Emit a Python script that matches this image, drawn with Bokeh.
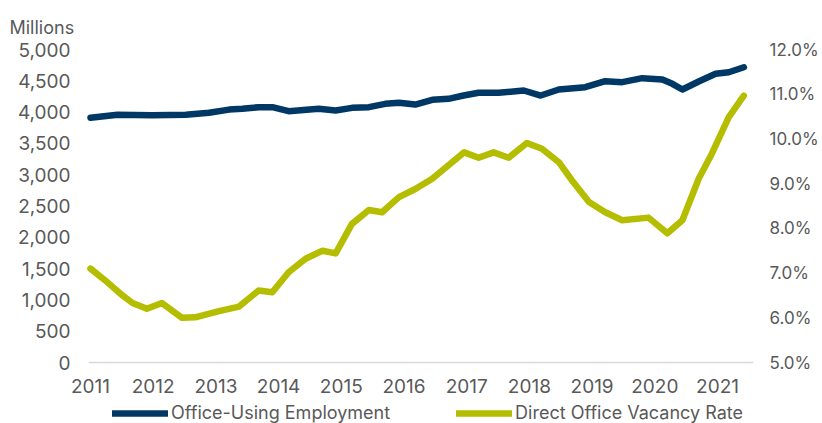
from bokeh.plotting import figure
from bokeh.models import (Range1d, LinearAxis, FixedTicker, NumeralTickFormatter,
                          PrintfTickFormatter, Legend, LegendItem, Title)
from bokeh.core.properties import value
from bokeh.embed import file_html
from bokeh.resources import INLINE

# Office-using employment (millions)
emp_dates = [2011.00, 2011.43, 2011.98, 2012.52, 2012.89, 2013.21, 2013.42, 2013.68,
             2013.90, 2014.16, 2014.64, 2014.91, 2015.17, 2015.44, 2015.70, 2015.92,
             2016.18, 2016.45, 2016.71, 2016.95, 2017.19, 2017.51, 2017.91, 2018.18,
             2018.47, 2018.89, 2019.21, 2019.48, 2019.80, 2020.12, 2020.28, 2020.44,
             2020.70, 2020.97, 2021.18, 2021.42]
employment = [3910, 3957, 3950, 3957, 3990, 4040, 4052, 4079,
              4079, 4015, 4052, 4025, 4068, 4079, 4132, 4148,
              4120, 4196, 4212, 4265, 4308, 4308, 4345, 4265,
              4361, 4398, 4494, 4478, 4542, 4521, 4452, 4361,
              4489, 4612, 4637, 4717]

# Direct office vacancy rate (%)
vac_dates = [2011.00, 2011.24, 2011.51, 2011.67, 2011.90, 2012.14, 2012.46, 2012.67,
             2013.05, 2013.37, 2013.68, 2013.90, 2014.16, 2014.43, 2014.70, 2014.91,
             2015.17, 2015.44, 2015.65, 2015.92, 2016.18, 2016.45, 2016.71, 2016.96,
             2017.19, 2017.43, 2017.67, 2017.96, 2018.20, 2018.47, 2018.68, 2018.95,
             2019.21, 2019.48, 2019.90, 2020.20, 2020.44, 2020.70, 2020.91, 2021.18,
             2021.42]
vacancy = [7.10, 6.83, 6.50, 6.33, 6.20, 6.33, 6.00, 6.01,
           6.15, 6.25, 6.61, 6.57, 7.02, 7.32, 7.50, 7.44,
           8.10, 8.41, 8.36, 8.70, 8.88, 9.11, 9.41, 9.70,
           9.58, 9.70, 9.58, 9.91, 9.78, 9.48, 9.07, 8.59,
           8.36, 8.18, 8.24, 7.89, 8.18, 9.11, 9.67, 10.49,
           10.97]

year_ticks = [2011, 2012, 2013, 2014, 2015, 2016, 2017, 2018, 2019, 2020, 2021]
year_labels = ["2011", "2012", "2013", "2014", "2015", "2016", "2017", "2018",
               "2019", "2020", "2021"]
left_ticks = [0, 500, 1000, 1500, 2000, 2500, 3000, 3500, 4000, 4500, 5000]
right_ticks = [5, 6, 7, 8, 9, 10, 11, 12]

# extent of the category (time) axis line
axis_start, axis_end = 2010.97, 2021.57

BLUE = "#003865"
GREEN = "#B5BD00"
GREY = "#595959"
FONT = "Inter"
FS = "19px"

# layout geometry (pixels)
W, H = 822, 423
TOP, LEFT, RIGHT = 49, 70, 54
PLOT_H = 313          # pixels between 0 and 5,000
BELOW = 61            # pixels below the zero line (year labels + legend)
PX_PER_YEAR = 62.7
FIRST_TICK_PX = 90    # x pixel of the 2011 tick

left_lo = -5000 * BELOW / PLOT_H
right_lo = 5 - 7 * BELOW / PLOT_H
x_lo = 2011 - (FIRST_TICK_PX - LEFT) / PX_PER_YEAR
x_hi = 2011 + (W - RIGHT - FIRST_TICK_PX) / PX_PER_YEAR

p = figure(width=W, height=H, output_backend="svg", toolbar_location=None,
           x_range=Range1d(x_lo, x_hi), y_range=Range1d(left_lo, 5000),
           x_axis_location=None,
           min_border_left=LEFT, min_border_right=RIGHT, min_border_top=TOP,
           min_border_bottom=0)
p.outline_line_color = None
p.grid.visible = False
p.background_fill_color = "white"
p.border_fill_color = "white"

p.extra_y_ranges = {"pct": Range1d(right_lo, 12)}

# time-axis baseline at zero
p.line([axis_start, axis_end], [0, 0], line_color="#D9D9D9", line_width=1.5)

r1 = p.line(emp_dates, employment, line_color=BLUE, line_width=6.5,
            line_cap="round", line_join="round")
r2 = p.line(vac_dates, vacancy, line_color=GREEN, line_width=6.5,
            line_cap="round", line_join="round", y_range_name="pct")

# year labels under the baseline
p.text(x=year_ticks, y=[0] * len(year_ticks), text=year_labels,
       y_offset=23, text_align="center", text_baseline="middle",
       text_font=value(FONT), text_font_size=FS, text_color=GREY)

def style_axis(ax, standoff, size=FS):
    ax.axis_line_color = None
    ax.major_tick_line_color = None
    ax.minor_tick_line_color = None
    ax.major_tick_out = 0
    ax.major_tick_in = 0
    ax.minor_tick_out = 0
    ax.major_label_text_font = FONT
    ax.major_label_text_font_size = size
    ax.major_label_text_color = GREY
    ax.major_label_standoff = standoff

# left axis
ya = p.yaxis[0]
ya.ticker = FixedTicker(ticks=left_ticks)
ya.formatter = NumeralTickFormatter(format="0,0")
style_axis(ya, 0)

# right axis
ra = LinearAxis(y_range_name="pct", ticker=FixedTicker(ticks=right_ticks),
                formatter=PrintfTickFormatter(format="%.1f%%"))
style_axis(ra, 1, "17px")
p.add_layout(ra, "right")

# "Millions" title
p.title = Title(text="Millions", align="left", offset=-61,
                text_font=FONT, text_font_size="18px", text_font_style="normal",
                text_color=GREY, standoff=24)

legend = Legend(items=[LegendItem(label="Office-Using Employment", renderers=[r1]),
                       LegendItem(label="Direct Office Vacancy Rate", renderers=[r2])],
                orientation="horizontal", location=(42, 0),
                label_text_font=FONT, label_text_font_size="18px", label_text_color=GREY,
                glyph_width=56, glyph_height=10, spacing=66, padding=0, margin=0,
                label_standoff=3, border_line_color=None, background_fill_alpha=0)
p.add_layout(legend)

open("out.html", "w").write(file_html(p, INLINE))
